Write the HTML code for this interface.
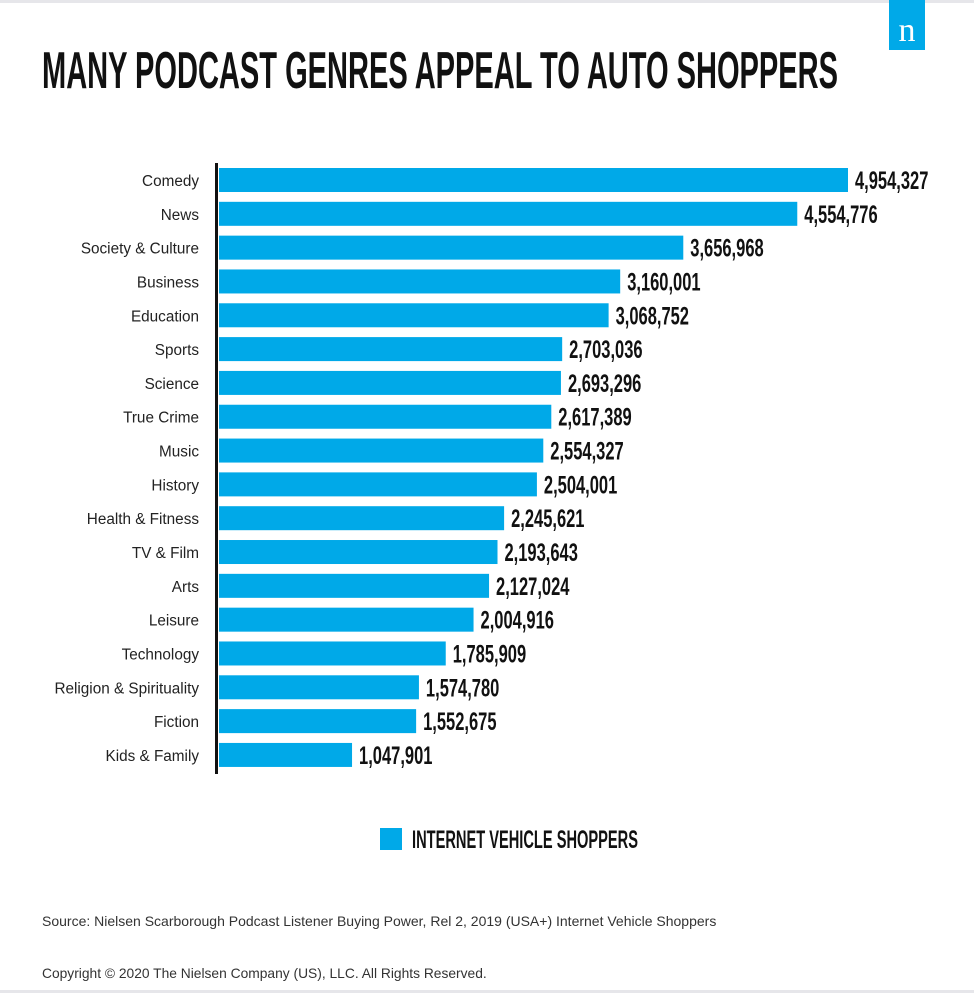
<!DOCTYPE html>
<html><head><meta charset="utf-8"><style>
body{margin:0;background:#fff;}
svg{display:block;font-family:"Liberation Sans",sans-serif;}
</style></head><body>
<svg id="c" width="974" height="993" viewBox="0 0 974 993">
<rect x="0" y="0" width="974" height="3" fill="#e6e6ea"/>
<rect x="0" y="990" width="974" height="3" fill="#e6e6ea"/>
<rect x="889" y="0" width="36" height="50" fill="#00a9e8"/>
<text x="907" y="41" text-anchor="middle" fill="#fff" font-family="Liberation Serif,serif" font-size="34">n</text>
<text x="42" y="88" font-size="52" font-weight="bold" textLength="796" lengthAdjust="spacingAndGlyphs" fill="#111">MANY PODCAST GENRES APPEAL TO AUTO SHOPPERS</text>
<g id="bars"></g>
<rect x="215" y="163" width="3" height="611" fill="#111"/>
<rect x="380" y="828" width="22" height="22" fill="#00a9e8"/>
<text x="412" y="848" font-size="25" font-weight="bold" textLength="226" lengthAdjust="spacingAndGlyphs" fill="#111">INTERNET VEHICLE SHOPPERS</text>
<text x="42" y="926" font-size="14" fill="#333">Source: Nielsen Scarborough Podcast Listener Buying Power, Rel 2, 2019 (USA+) Internet Vehicle Shoppers</text>
<text x="42" y="978" font-size="13.8" fill="#333">Copyright © 2020 The Nielsen Company (US), LLC. All Rights Reserved.</text>
</svg>
<script>
const categories=["Comedy","News","Society & Culture","Business","Education","Sports","Science","True Crime","Music","History","Health & Fitness","TV & Film","Arts","Leisure","Technology","Religion & Spirituality","Fiction","Kids & Family"];
const values=[4954327,4554776,3656968,3160001,3068752,2703036,2693296,2617389,2554327,2504001,2245621,2193643,2127024,2004916,1785909,1574780,1552675,1047901];
const valueLabels=["4,954,327","4,554,776","3,656,968","3,160,001","3,068,752","2,703,036","2,693,296","2,617,389","2,554,327","2,504,001","2,245,621","2,193,643","2,127,024","2,004,916","1,785,909","1,574,780","1,552,675","1,047,901"];
const NS="http://www.w3.org/2000/svg";
const g=document.getElementById('bars');
const x0=219, xScale=v=>x0+v*(629/4954327);
const yCenter=i=>180+i*33.82, bh=24;
categories.forEach((c,i)=>{
  const y=yCenter(i);
  const r=document.createElementNS(NS,'rect');
  
  
  r.setAttribute('x',x0);r.setAttribute('y',y-bh/2);
  r.setAttribute('width',xScale(values[i])-x0);r.setAttribute('height',bh);
  r.setAttribute('fill','#00a9e8');g.appendChild(r);
  const t=document.createElementNS(NS,'text');
  
  
  t.setAttribute('x',199);t.setAttribute('y',y+6);t.setAttribute('text-anchor','end');
  t.setAttribute('font-size','15.3');t.setAttribute('fill','#222');t.textContent=c;g.appendChild(t);
  const v=document.createElementNS(NS,'text');
  
  
  const vx=xScale(values[i])+7;
  v.setAttribute('transform','translate('+vx+','+(y+9)+') scale(0.66,1)');
  v.setAttribute('font-size','25');v.setAttribute('font-weight','bold');v.setAttribute('fill','#111');v.textContent=valueLabels[i];g.appendChild(v);
});
</script>
</body></html>
